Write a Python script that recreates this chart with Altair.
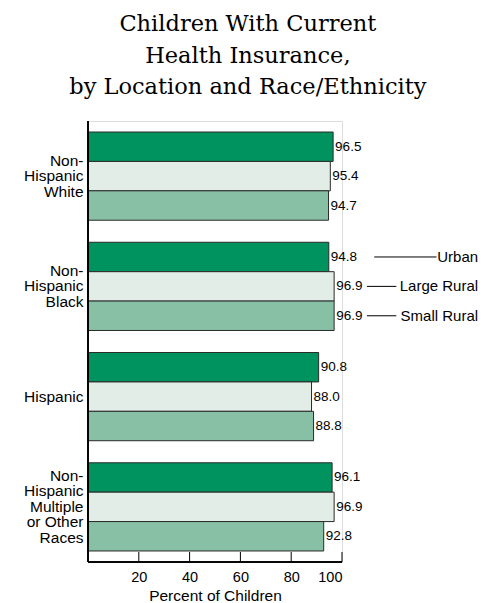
import altair as alt
import pandas as pd

# ---- data ----
groups = ["Non-|Hispanic|White", "Non-|Hispanic|Black", "Hispanic",
          "Non-|Hispanic|Multiple|or Other|Races"]
locations = ["Urban", "Large Rural", "Small Rural"]
urban = [96.5, 94.8, 90.8, 96.1]
large_rural = [95.4, 96.9, 88.0, 96.9]
small_rural = [94.7, 96.9, 88.8, 92.8]
x_ticks = [20, 40, 60, 80, 100]
title_lines = ["Children With Current", "Health Insurance,",
               "by Location and Race/Ethnicity"]
legend_group = "Non-|Hispanic|Black"

colors = ["#00935F", "#E3EDE8", "#88C0A5"]

rows = []
for loc, vals in zip(locations, [urban, large_rural, small_rural]):
    for g, v in zip(groups, vals):
        rows.append({"group": g, "location": loc, "value": v})
df = pd.DataFrame(rows)

# annotation (legend) placement, in axis units
label_right = 153.6
line_start = {"Urban": 112.7, "Large Rural": 109.8, "Small Rural": 109.8}
line_end = {"Urban": 137.2, "Large Rural": 121.4, "Small Rural": 121.4}
leg = pd.DataFrame({
    "group": [legend_group] * 3,
    "location": locations,
    "x1": [line_start[l] for l in locations],
    "x2": [line_end[l] for l in locations],
    "xl": [label_right] * 3,
})
ticks_df = pd.DataFrame({"t": x_ticks})

H = 441
W = 254
FONT = "Liberation Sans"
TICK = 10

yscale = alt.Scale(domain=groups, paddingInner=0.2, paddingOuter=0.1)
yoff = alt.YOffset("location:N", sort=locations,
                   scale=alt.Scale(domain=locations, paddingInner=0, paddingOuter=0))
xscale = alt.Scale(domain=[0, 100], nice=False, zero=True)

label_offset = {
    "condition": [
        {"test": "indexof(datum.value, 'Races') >= 0", "value": -31},
        {"test": "indexof(datum.value, '|') >= 0", "value": -15.5},
    ],
    "value": 0,
}

base = alt.Chart(df)

bars = base.mark_bar(stroke="#2a2a2a", strokeWidth=1, cornerRadius=0).encode(
    y=alt.Y("group:N", sort=groups, scale=yscale,
            axis=alt.Axis(title=None, ticks=False, domain=False,
                          labelExpr="split(datum.label, '|')",
                          labelOffset=label_offset,
                          labelFont=FONT, labelFontSize=15.5, labelLineHeight=15.5,
                          labelColor="black", labelPadding=5, labelLimit=200)),
    yOffset=yoff,
    x=alt.X("value:Q", scale=xscale,
            axis=alt.Axis(title="Percent of Children", values=x_ticks, ticks=False,
                          domain=False, labelFont=FONT, labelFontSize=14.5,
                          labelColor="black", labelPadding=8, grid=False,
                          titleFont=FONT, titleFontSize=15.5, titleFontWeight="normal",
                          titleColor="black", titlePadding=5)),
    color=alt.Color("location:N", sort=locations,
                    scale=alt.Scale(domain=locations, range=colors), legend=None),
)

vals = base.mark_text(align="left", baseline="middle", dx=2, font=FONT,
                      fontSize=13.5, color="black").encode(
    y=alt.Y("group:N", sort=groups, scale=yscale),
    yOffset=yoff,
    x=alt.X("value:Q", scale=xscale),
    text=alt.Text("value:Q", format=".1f"),
)

# axis lines and inward ticks
y_line = alt.Chart(ticks_df).mark_rule(color="black", strokeWidth=1).encode(
    x=alt.datum(0, scale=xscale), y=alt.value(0), y2=alt.value(H))
x_line = alt.Chart(ticks_df).mark_rule(color="black", strokeWidth=1).encode(
    x=alt.datum(0, scale=xscale), x2=alt.datum(100), y=alt.value(H))
tick_marks = alt.Chart(ticks_df).mark_rule(color="black", strokeWidth=1).encode(
    x=alt.X("t:Q", scale=xscale), y=alt.value(H - TICK), y2=alt.value(H))

leg_base = alt.Chart(leg)
leg_lines = leg_base.mark_rule(color="black", strokeWidth=1).encode(
    y=alt.Y("group:N", sort=groups, scale=yscale),
    yOffset=yoff,
    x=alt.X("x1:Q", scale=xscale),
    x2="x2:Q",
)
leg_text = leg_base.mark_text(align="right", baseline="middle", font=FONT,
                              fontSize=15, color="black").encode(
    y=alt.Y("group:N", sort=groups, scale=yscale),
    yOffset=yoff,
    x=alt.X("xl:Q", scale=xscale),
    text="location:N",
)

chart = alt.layer(bars, vals, leg_lines, leg_text, y_line, x_line, tick_marks).properties(
    width=W, height=H,
    padding={"left": 15, "top": 5, "right": 5, "bottom": 0},
    title=alt.TitleParams(text=title_lines, font="DejaVu Serif", fontSize=22.5,
                          fontWeight="normal", color="black", anchor="middle",
                          frame="bounds", lineHeight=31.5, offset=22, dx=-3),
).configure_view(stroke=None).configure(background="white")

chart.save("out.html", embed_options={"renderer": "svg", "actions": False})
